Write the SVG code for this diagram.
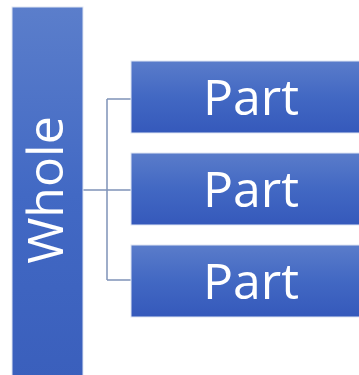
<svg xmlns="http://www.w3.org/2000/svg" width="359" height="375" viewBox="0 0 359 375">
<defs>
<linearGradient id="gw" x1="0" y1="0" x2="0" y2="1"><stop offset="0" stop-color="#5b7ecb"/><stop offset="0.5" stop-color="#4269c4"/><stop offset="1" stop-color="#3a5fbc"/></linearGradient>
<linearGradient id="gp" x1="0" y1="0" x2="0" y2="1"><stop offset="0" stop-color="#5a7cca"/><stop offset="0.5" stop-color="#4268c3"/><stop offset="1" stop-color="#3559bb"/></linearGradient>
</defs>
<style>
.box{stroke:#dfe6f4;stroke-width:1}
.lbl{font-family:"Open Sans","Noto Sans",sans-serif;font-size:50px;fill:#ffffff;text-anchor:middle}
.con{stroke:#7f93b8;stroke-width:1.5;fill:none}
</style>
<rect width="359" height="375" fill="#ffffff"/>
<g id="connectors">
<path class="con" d="M83,190 H131 M107,99 V280 M107,99 H131 M107,280 H131"/>
</g>
<g id="whole">
<rect class="box" x="12" y="7" width="71" height="375" fill="url(#gw)"/>
<text class="lbl" transform="translate(63,190) rotate(-90)">Whole</text>
</g>
<g id="part1">
<rect class="box" x="131" y="61" width="240" height="72" fill="url(#gp)"/>
<text class="lbl" x="251" y="115">Part</text>
</g>
<g id="part2">
<rect class="box" x="131" y="153" width="240" height="72" fill="url(#gp)"/>
<text class="lbl" x="251" y="207">Part</text>
</g>
<g id="part3">
<rect class="box" x="131" y="245" width="240" height="72" fill="url(#gp)"/>
<text class="lbl" x="251" y="299">Part</text>
</g>
</svg>
